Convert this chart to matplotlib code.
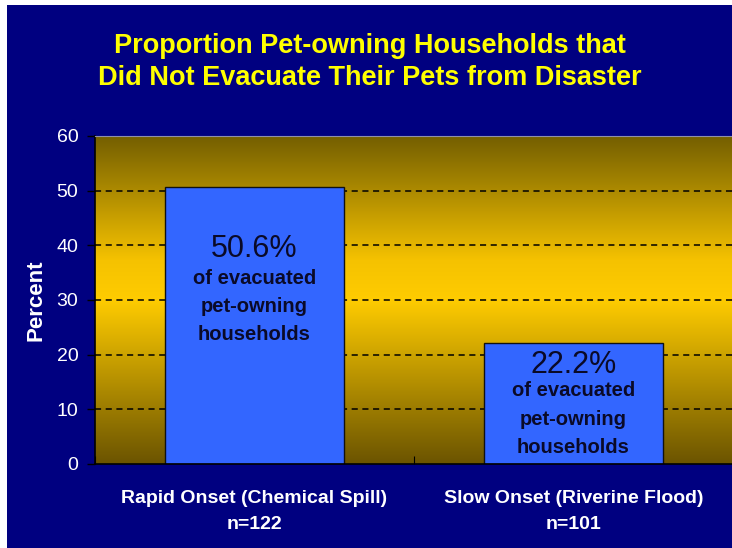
import numpy as np
import matplotlib
matplotlib.use("Agg")
import matplotlib.pyplot as plt
from matplotlib.colors import LinearSegmentedColormap
from matplotlib.patches import Rectangle

categories = ["Rapid Onset (Chemical Spill)\nn=122", "Slow Onset (Riverine Flood)\nn=101"]
values = [50.6, 22.2]
pct_labels = ["50.6%", "22.2%"]
sub_label = "of evacuated\npet-owning\nhouseholds"
yticks = [0, 10, 20, 30, 40, 50, 60]

NAVY = "#000080"
plt.rcParams["font.family"] = ["Liberation Sans", "DejaVu Sans"]

fig = plt.figure(figsize=(7.32, 5.48), dpi=100, facecolor="white")
# navy slide panel with thin white margin top/left
fig.patches.append(Rectangle((7 / 732, 0), 1, 1 - 5 / 548, transform=fig.transFigure,
                             facecolor=NAVY, edgecolor="none", zorder=-5))

ax = fig.add_axes([95 / 732, 1 - 464 / 548, 638 / 732, 328 / 548])
ax.set_facecolor("none")

# vertical gold gradient: dark at top/bottom, bright in the middle
cmap = LinearSegmentedColormap.from_list(
    "gold", [(0.0, "#6b5400"), (0.5, "#ffcc00"), (0.62, "#f5c200"), (1.0, "#735e00")])
grad = np.linspace(0, 1, 256).reshape(-1, 1)
ax.imshow(grad, cmap=cmap, origin="lower", aspect="auto",
          extent=[-0.5, 1.5, 0, 60], zorder=0)

for y in yticks[1:-1]:
    ax.axhline(y, color="black", linestyle=(0, (4, 3)), linewidth=1.1, zorder=1)

x = np.arange(len(categories))
ax.bar(x, values, width=0.56, color="#3366ff", edgecolor="#111111", linewidth=1, zorder=2)

for xi, v, p in zip(x, values, pct_labels):
    if v > 40:
        top = v - 11.3
        gap = 3.6
    else:
        top = v - 4.0
        gap = 3.1
    ax.text(xi, top, p, ha="center", va="center", fontsize=22, color="#0a0a28", zorder=3)
    ax.text(xi, top - gap, sub_label, ha="center", va="top", fontsize=14.5,
            fontweight="bold", color="#0a0a28", linespacing=1.62, zorder=3)

ax.set_xlim(-0.5, 1.5)
ax.set_ylim(0, 60)
ax.set_yticks(yticks)
ax.set_xticks([-0.5, 0.5, 1.5], minor=False)
ax.set_xticklabels([])
ax.set_xticks(x, minor=True)
ax.set_xticklabels(categories, minor=True, fontsize=14, fontweight="bold", color="white",
                   linespacing=1.7)
ax.tick_params(axis="x", which="minor", length=0, pad=19)
ax.tick_params(axis="x", which="major", length=6, direction="in", color="black")
ax.tick_params(axis="y", labelsize=14, labelcolor="white", color="black",
               length=6, direction="out", width=1, pad=6)

for s in ["left", "bottom"]:
    ax.spines[s].set_color("black")
    ax.spines[s].set_linewidth(1.2)
ax.spines["top"].set_color("#9090a8")
ax.spines["right"].set_visible(False)

ax.set_ylabel("Percent", fontsize=16, fontweight="bold", color="white", labelpad=7)

fig.text(0.505, 1 - 62 / 548, "Proportion Pet-owning Households that\nDid Not Evacuate Their Pets from Disaster",
         ha="center", va="center", fontsize=19.5, fontweight="bold", color="#ffff00", linespacing=1.3)

fig.savefig("out.png", dpi=100, facecolor=fig.get_facecolor())
